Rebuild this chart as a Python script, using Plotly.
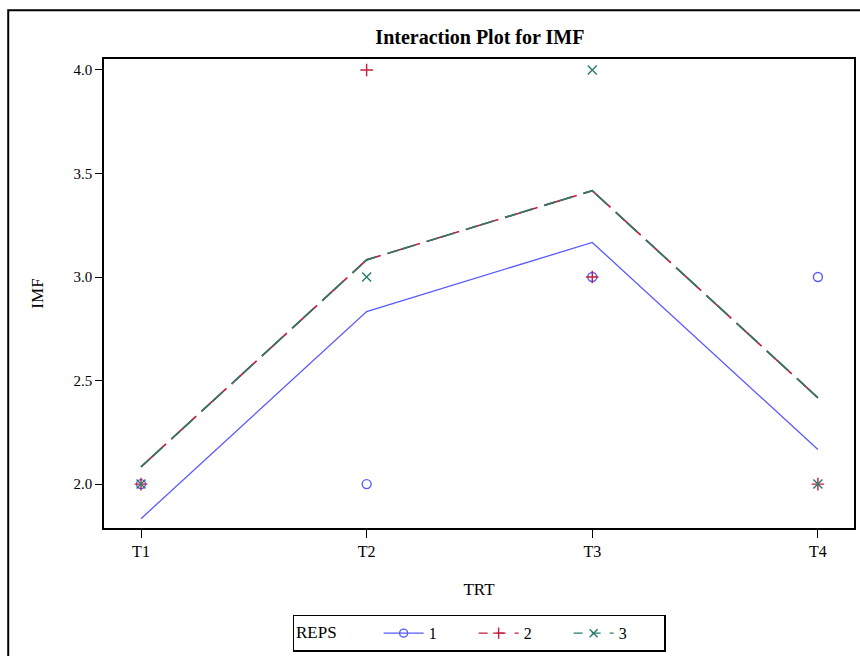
import plotly.graph_objects as go

# Treatment levels on the x axis
trt = ["T1", "T2", "T3", "T4"]

# Observed IMF values by replicate
obs_rep1 = [2.0, 2.0, 3.0, 3.0]
obs_rep2 = [2.0, 4.0, 3.0, 2.0]
obs_rep3 = [2.0, 3.0, 4.0, 2.0]

# Fitted (additive model) profiles by replicate
fit_rep1 = [1.833, 2.833, 3.167, 2.167]
fit_rep2 = [2.083, 3.083, 3.417, 2.417]
fit_rep3 = [2.083, 3.083, 3.417, 2.417]

rep_names = ["1", "2", "3"]
y_ticks = [2.0, 2.5, 3.0, 3.5, 4.0]

blue = "#5A5AFF"
red = "#C41E3A"
green = "#2B7A6A"
serif = "Liberation Serif"

xi = list(range(len(trt)))

fig = go.Figure()

# fitted profile lines (rep 2 and rep 3 coincide; their dash patterns interleave)
fig.add_trace(go.Scatter(x=xi, y=fit_rep2, mode="lines", showlegend=False,
                         line=dict(color=red, width=1.7, dash="34px,7px")))
fig.add_trace(go.Scatter(x=xi, y=fit_rep3, mode="lines", showlegend=False,
                         line=dict(color=green, width=1.7, dash="12px,3px,14px,12px")))
fig.add_trace(go.Scatter(x=xi, y=fit_rep1, mode="lines", showlegend=False,
                         line=dict(color=blue, width=1.3)))

# observed points
fig.add_trace(go.Scatter(x=xi, y=obs_rep1, mode="markers", showlegend=False,
                         marker=dict(symbol="circle-open", size=9, color=blue,
                                     line=dict(width=1.4, color=blue))))
fig.add_trace(go.Scatter(x=xi, y=obs_rep2, mode="markers", showlegend=False,
                         marker=dict(symbol="cross-thin", size=9, color=red,
                                     line=dict(width=1.4, color=red))))
fig.add_trace(go.Scatter(x=xi, y=obs_rep3, mode="markers", showlegend=False,
                         marker=dict(symbol="x-thin", size=9, color=green,
                                     line=dict(width=1.4, color=green))))

# legend entries
legend_styles = [
    (blue, "solid", "circle-open"),
    (red, "dash", "cross-thin"),
    (green, "dash", "x-thin"),
]
for name, (col, dsh, sym) in zip(rep_names, legend_styles):
    fig.add_trace(go.Scatter(x=[None], y=[None], mode="lines+markers",
                             name=name + "\u2003\u2003",
                             line=dict(color=col, width=1.4, dash=dsh),
                             marker=dict(symbol=sym, size=8, color=col,
                                         line=dict(width=1.4, color=col))))

# outer graph frame
fig.add_shape(type="rect", xref="paper", yref="paper",
              x0=-0.1277, x1=1.08, y0=-0.35, y1=1.104,
              line=dict(color="black", width=2), layer="below")

fig.update_layout(
    width=860, height=656,
    margin=dict(l=104, r=4, t=59, b=126),
    paper_bgcolor="white", plot_bgcolor="white",
    font=dict(family=serif, size=15, color="black"),
    title=dict(text="<b>Interaction Plot for IMF</b>", x=0.558, xanchor="center",
               y=1 - 37 / 656, yanchor="middle",
               font=dict(family=serif, size=20, color="black")),
    xaxis=dict(
        range=[-0.164, 3.16], tickmode="array", tickvals=xi, ticktext=trt,
        showgrid=False, zeroline=False, showline=True, linecolor="black",
        linewidth=1.5, mirror=True, ticks="outside", ticklen=8, tickwidth=1.3,
        tickcolor="black", tickfont=dict(size=16, family=serif),
        title=dict(text="TRT", font=dict(size=17, family=serif), standoff=24),
    ),
    yaxis=dict(
        range=[1.788, 4.053], tickmode="array", tickvals=y_ticks,
        ticktext=[f"{v:.1f}" for v in y_ticks],
        showgrid=False, zeroline=False, showline=True, linecolor="black",
        linewidth=1.5, mirror=True, ticks="outside", ticklen=7, tickwidth=1.3,
        tickcolor="black", tickfont=dict(size=15, family=serif),
        title=dict(text="IMF", font=dict(size=17, family=serif), standoff=26),
    ),
    legend=dict(
        orientation="h", x=0.5, xanchor="center", y=-0.185, yanchor="top",
        title=dict(text="REPS\u2003\u2003", font=dict(size=17, family=serif), side="left"),
        font=dict(size=16, family=serif),
        bordercolor="black", borderwidth=1.5, bgcolor="white",
        itemwidth=40, tracegroupgap=0,
    ),
)

fig.write_html("out.html")
